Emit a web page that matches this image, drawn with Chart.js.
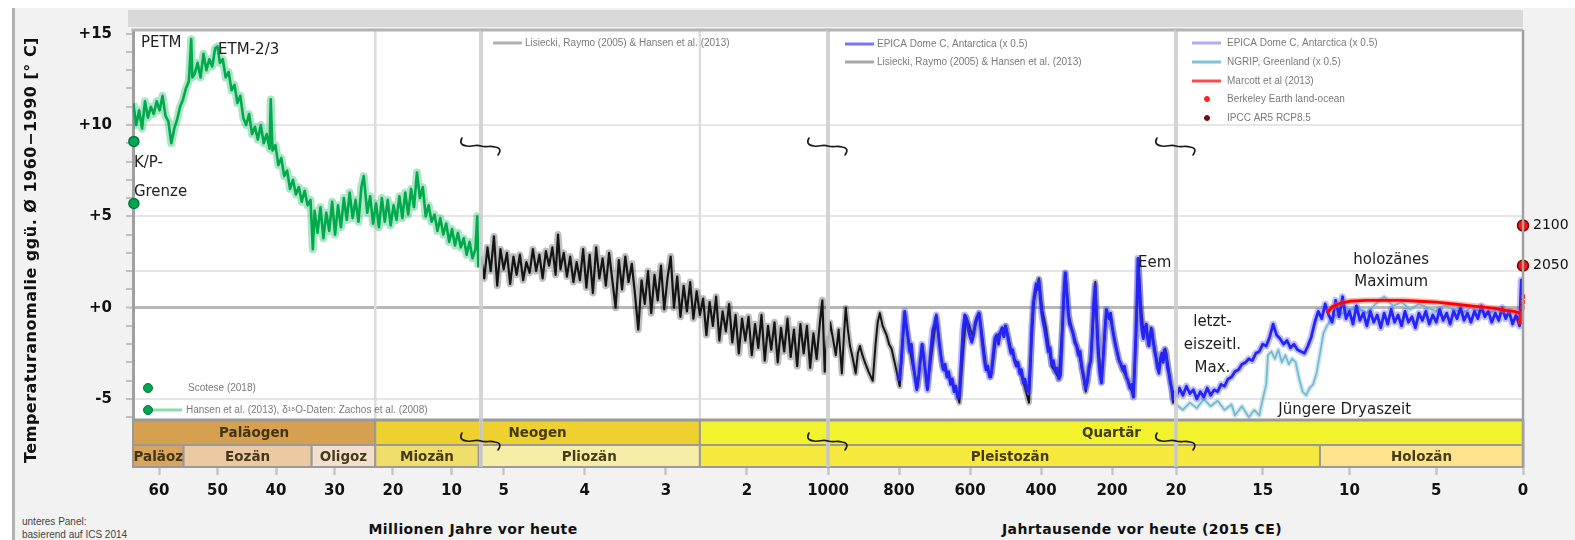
<!DOCTYPE html>
<html><head><meta charset="utf-8">
<script src="https://cdn.jsdelivr.net/npm/chart.js@4.4.1/dist/chart.umd.min.js"></script>
<style>
html,body{margin:0;padding:0}
body{width:1575px;height:540px;background:#fff;position:relative;overflow:hidden;font-family:'DejaVu Sans',sans-serif}
#frame{position:absolute;left:12px;top:8px;width:1563px;height:532px;background:#f2f2f2;border-left:3px solid #b3b3b3}
#topbar{position:absolute;left:128px;top:10px;width:1395px;height:17px;background:#d9d9d9}
canvas{position:absolute;top:0}
.xt{position:absolute;top:521px;font:bold 14px 'DejaVu Sans';color:#111;transform:translateX(-50%);white-space:nowrap;letter-spacing:0.4px}
.note{position:absolute;left:22px;font:10px 'Liberation Sans';color:#444;white-space:nowrap}
</style></head><body>
<div id="frame"></div><div id="topbar"></div>
<div class="xt" style="left:473px">Millionen Jahre vor heute</div>
<div class="xt" style="left:1142px">Jahrtausende vor heute (2015 CE)</div>
<div class="note" style="top:516px">unteres Panel:</div>
<div class="note" style="top:529px">basierend auf ICS 2014</div>
<script>
// ---------------- DATA ----------------
const yTitle = 'Temperaturanomalie ggü. Ø 1960−1990 [° C]';
const yTickValues = [-6,-5,-4,-3,-2,-1,0,1,2,3,4,5,6,7,8,9,10,11,12,13,14,15];
const yLabelValues = [15,10,5,0,-5];
const yLabelTexts = ['+15','+10','+5','+0','-5'];
const gridValues = [10,5,2,0,-5];

const p1TickValues = [60,50,40,30,20,10];
const p1TickLabels = ['60','50','40','30','20','10'];
const p2TickValues = [5,4,3,2];
const p2TickLabels = ['5','4','3','2'];
const p3TickValues = [1000,800,600,400,200];
const p3TickLabels = ['1000','800','600','400','200'];
const p4TickValues = [20,15,10,5,0];
const p4TickLabels = ['20','15','10','5','0'];

// geologic time (Ma)
const eraNames = ['Paläogen','Neogen','Quartär'];
const eraStart = [66.0, 23.03, 2.58];
const eraEnd = [23.03, 2.58, 0];
const epochNames = ['Paläoz','Eozän','Oligoz','Miozän','Pliozän','Pleistozän','Holozän'];
const epochStart = [66.0, 55.8, 33.9, 23.03, 5.33, 2.58, 0.0117];
const epochEnd = [55.8, 33.9, 23.03, 5.33, 2.58, 0.0117, 0];

// Panel 1: Hansen et al. (2013) / Zachos (Ma)
const greenAge = [64.4,63.9,63.4,62.9,62.4,61.9,61.4,60.9,60.4,59.9,59.4,58.9,58.4,57.9,57.4,56.9,56.4,55.9,55.4,54.9,54.5,54.3,53.9,53.4,52.9,52.4,51.9,51.4,50.9,50.4,50.0,49.6,49.1,48.6,48.1,47.6,47.1,46.6,46.1,45.6,45.1,44.6,44.1,43.6,43.1,42.6,42.1,41.6,41.1,40.9,40.6,40.1,39.6,39.1,38.6,38.1,37.6,37.1,36.6,36.1,35.6,35.1,34.6,34.1,33.7,33.4,32.9,32.4,31.9,31.4,30.9,30.4,29.9,29.4,28.9,28.4,27.9,27.4,26.9,26.4,25.9,25.4,25.0,24.4,23.9,23.4,22.9,22.4,21.9,21.4,20.9,20.4,19.9,19.4,18.9,18.4,17.9,17.4,16.9,16.4,15.9,15.4,14.9,14.4,13.9,13.4,12.9,12.4,11.9,11.4,10.9,10.4,9.9,9.4,8.9,8.4,7.9,7.4,6.9,6.4,5.9,5.6,5.4];
const greenTemp = [11.2,10.0,10.8,9.8,11.3,10.4,11.0,10.6,11.3,10.8,11.6,10.5,10.2,9.0,9.8,10.3,11.0,11.4,12.0,12.4,14.7,12.6,12.8,13.4,12.6,13.9,13.0,13.6,13.2,14.2,14.3,13.4,13.6,12.6,12.9,11.9,12.2,11.2,11.6,10.4,10.0,10.6,9.5,9.9,9.2,10.0,9.0,9.5,8.7,11.4,8.6,8.9,7.8,8.2,7.2,7.5,6.5,7.0,6.2,6.6,5.8,6.4,5.6,5.9,3.2,5.3,4.1,5.5,3.8,5.2,4.2,5.8,4.0,5.6,4.4,6.0,4.8,6.3,4.9,5.9,4.7,6.6,7.2,5.2,6.1,4.6,5.7,4.4,6.0,4.7,5.9,4.5,5.6,4.8,6.1,4.9,6.3,5.1,6.5,5.5,7.4,6.0,6.6,5.0,5.6,4.7,5.1,4.2,4.9,4.0,4.6,3.6,4.3,3.4,4.1,3.3,3.8,2.9,3.6,2.7,3.2,5.0,2.2];
const scoteseAge = [64.3,64.3];
const scoteseTemp = [9.1,5.7];

// Panel 2: Lisiecki & Raymo (2005) & Hansen (Ma)
const p2Age = [5.28,5.24,5.20,5.16,5.12,5.08,5.04,5.00,4.96,4.92,4.88,4.84,4.80,4.76,4.72,4.68,4.64,4.60,4.56,4.52,4.48,4.44,4.40,4.36,4.33,4.30,4.26,4.22,4.18,4.14,4.10,4.06,4.02,3.98,3.94,3.90,3.86,3.82,3.78,3.74,3.70,3.66,3.62,3.58,3.54,3.50,3.46,3.42,3.38,3.34,3.30,3.26,3.22,3.18,3.14,3.10,3.06,3.02,2.98,2.94,2.90,2.86,2.82,2.78,2.74,2.70,2.66,2.62,2.58,2.54,2.50,2.46,2.42,2.38,2.34,2.30,2.26,2.22,2.18,2.14,2.10,2.06,2.02,1.98,1.94,1.90,1.86,1.82,1.78,1.74,1.70,1.66,1.62,1.58,1.54,1.50,1.46,1.42,1.38,1.34,1.30,1.26,1.22,1.18,1.14,1.10,1.07,1.04,1.01,1.00];
const p2Temp = [2.8,1.6,3.3,2.0,3.9,1.2,3.2,2.1,3.0,1.3,2.8,1.8,2.9,1.5,2.5,1.9,3.2,2.0,2.9,1.6,3.1,2.3,3.3,1.8,4.0,2.1,3.0,1.7,2.8,1.4,2.5,1.5,3.2,1.1,2.9,0.8,3.3,1.6,2.7,1.2,3.0,1.5,0.0,2.6,1.0,2.8,1.4,2.4,0.7,-1.2,1.5,0.2,2.0,-0.3,1.8,0.4,2.3,-0.1,1.6,2.8,0.0,1.7,-0.5,1.2,-0.2,1.4,-0.6,0.9,-0.4,0.5,-1.5,0.3,-1.0,0.6,-1.8,-0.2,-1.3,0.2,-1.9,-0.4,-2.5,-0.6,-1.8,-0.5,-2.6,-0.9,-2.2,-0.4,-2.9,-1.0,-2.3,-0.8,-3.0,-1.1,-2.4,-0.6,-2.7,-1.2,-3.2,-0.9,-2.5,-1.0,-3.3,-1.4,-2.8,-0.8,0.4,-3.5,-1.6,-2.2];

// Panel 3 (ka): LR04 & EPICA
const p3BlackAge = [1000,994,986,978,970,961,955,950,944,938,930,922,916,910,903,896,886,874,866,860,854,846,835,828,821,810,798,790,784,777,770,760,748,740,734,727,720,708,695,686,678,665,653,640,630,620,611,602,594,584,574,564,555,541,534,527,512,499,492,485,474,462,448,434,427,420,413,406,396,386,378,370,360,350,340,331,322,314,304,294,284,274,268,261,254,247,239,230,223,216,209,202,192,182,172,162,150,140,132,126,119,112,104,98,90,82,70,60,50,40,28,20];
const p3BlackTemp = [-2.2,-0.8,-1.7,-2.6,-1.2,-3.6,-1.5,0.0,-1.2,-2.1,-2.8,-3.6,-2.5,-2.1,-2.6,-3.0,-3.5,-4.0,-2.0,-0.8,-0.3,-1.0,-1.5,-2.0,-2.25,-3.2,-4.3,-2.0,-0.3,-1.3,-2.25,-3.3,-4.3,-3.0,-2.1,-3.3,-4.3,-2.5,-0.6,-2.0,-3.2,-3.6,-4.0,-4.5,-5.2,-2.5,-0.5,-1.0,-1.5,-0.9,-0.3,-1.8,-3.2,-3.8,-2.8,-1.6,-1.3,-1.0,-1.6,-2.25,-2.8,-3.3,-4.2,-5.2,-2.0,0.3,1.0,1.6,-0.2,-1.1,-2.2,-3.2,-3.5,-3.9,-1.0,1.9,-0.4,-1.1,-1.8,-2.4,-3.5,-4.6,-3.8,-3.0,-1.0,1.4,-2.0,-4.1,-2.0,-0.2,-0.5,-0.8,-1.8,-2.8,-3.3,-3.7,-4.3,-4.8,-1.5,2.6,0.2,-1.3,-1.0,-2.0,-1.1,-2.0,-3.3,-2.6,-2.25,-3.4,-5.2,-4.9];
const p3BlueAge = [800,794,789,784,780,775,770,765,760,755,750,745,740,735,730,725,720,715,710,705,700,695,690,685,680,675,670,665,660,655,650,645,640,635,630,625,620,615,610,605,600,595,590,585,580,575,570,565,560,555,550,545,540,535,530,525,520,515,510,505,500,495,490,485,480,475,470,465,460,455,450,445,440,435,430,426,422,418,414,410,406,402,398,394,390,385,380,375,370,365,360,355,350,345,340,336,332,328,324,320,315,310,305,300,295,290,285,280,275,270,265,260,256,252,248,244,240,235,230,225,220,216,212,208,204,200,195,190,185,180,175,170,165,160,155,150,145,140,136,132,129,127,124,121,118,115,112,108,104,100,96,92,88,84,80,76,72,68,64,60,56,52,48,44,40,36,32,28,24,20];
const p3BlueTemp = [-4.0,-3.0,-1.5,-0.2,-0.9,-1.6,-2.4,-2.0,-3.1,-3.8,-4.5,-3.8,-2.9,-2.0,-2.8,-3.6,-4.5,-3.4,-2.2,-1.2,-0.9,-0.4,-1.3,-2.2,-2.9,-3.4,-3.1,-3.8,-3.5,-4.2,-3.9,-4.6,-4.3,-4.9,-4.8,-3.0,-1.2,-0.4,-0.6,-1.2,-1.6,-1.9,-1.5,-0.8,-0.5,-0.3,-1.0,-2.0,-2.8,-3.4,-3.2,-3.8,-3.6,-2.6,-1.7,-1.5,-2.0,-1.4,-1.1,-1.6,-1.0,-1.5,-2.0,-2.5,-2.3,-2.9,-3.2,-3.0,-3.6,-3.4,-4.1,-3.9,-4.5,-4.6,-3.0,-1.0,0.2,0.8,1.3,1.0,1.5,0.5,-0.3,-0.8,-1.2,-1.8,-2.4,-2.2,-3.1,-2.9,-3.5,-3.3,-3.9,-3.7,-1.2,0.8,1.9,0.9,-0.2,-0.9,-1.1,-1.4,-1.9,-2.1,-2.6,-2.4,-3.3,-3.7,-4.4,-4.1,-3.2,-2.9,-1.5,0.2,1.2,-0.5,-2.2,-3.5,-4.1,-2.8,-1.2,-0.1,-0.4,-0.6,-0.3,-1.0,-1.6,-2.1,-2.5,-2.9,-3.1,-3.4,-3.2,-3.8,-4.0,-4.4,-4.2,-4.9,-3.0,-0.8,1.0,2.7,1.5,0.1,-0.8,-1.4,-1.7,-1.2,-0.9,-1.6,-2.1,-1.4,-1.2,-1.9,-2.4,-2.8,-3.3,-3.6,-2.8,-2.5,-3.0,-2.3,-2.5,-3.3,-3.6,-4.1,-4.4,-5.0,-4.6,-4.9];

// Panel 4 (ka)
const p4BlueAge = [20.0,19.8,19.6,19.4,19.2,19.0,18.8,18.6,18.4,18.2,18.0,17.8,17.6,17.4,17.2,17.0,16.8,16.6,16.4,16.2,16.0,15.8,15.6,15.4,15.2,15.0,14.8,14.6,14.4,14.2,14.0,13.8,13.6,13.4,13.2,13.0,12.8,12.6,12.4,12.2,12.0,11.8,11.6,11.4,11.2,11.0,10.8,10.6,10.4,10.2,10.0,9.8,9.6,9.4,9.2,9.0,8.8,8.6,8.4,8.2,8.0,7.8,7.6,7.4,7.2,7.0,6.8,6.6,6.4,6.2,6.0,5.8,5.6,5.4,5.2,5.0,4.8,4.6,4.4,4.2,4.0,3.8,3.6,3.4,3.2,3.0,2.8,2.6,2.4,2.2,2.0,1.8,1.6,1.4,1.2,1.0,0.8,0.6,0.4,0.2,0.1,0.0];
const p4BlueTemp = [-4.9,-4.4,-4.8,-4.3,-4.7,-4.5,-5.0,-4.6,-4.9,-4.4,-4.8,-4.5,-4.6,-4.2,-4.3,-3.9,-3.8,-3.5,-3.4,-3.1,-3.0,-2.8,-2.9,-2.5,-2.4,-2.0,-2.1,-1.6,-0.9,-1.5,-1.7,-2.0,-1.8,-2.2,-2.0,-2.3,-2.4,-2.5,-2.1,-1.6,-0.8,-0.2,-0.6,0.2,-0.4,-0.8,0.4,-0.5,0.6,-0.6,-0.2,-0.9,0.1,-0.7,-0.3,-1.0,-0.2,-0.8,-0.4,-1.1,-0.3,-0.9,-0.1,-0.8,-0.4,-1.0,-0.2,-0.8,-0.5,-1.1,-0.3,-0.7,-0.2,-0.9,-0.4,-0.8,-0.1,-0.7,-0.3,-0.9,-0.2,-0.6,0.0,-0.7,-0.3,-0.8,-0.2,-0.6,0.1,-0.5,-0.2,-0.8,-0.3,-0.7,0.0,-0.6,-0.2,-0.9,-0.4,-1.0,1.5,-0.3];
const p4CyanAge = [20.0,19.6,19.2,18.8,18.4,18.0,17.6,17.2,16.8,16.6,16.2,15.8,15.5,15.2,15.0,14.8,14.7,14.5,14.3,14.1,13.9,13.7,13.5,13.3,13.1,12.9,12.7,12.5,12.3,12.1,11.9,11.7,11.5,11.3,11.1,10.8,10.4,10.0,9.5,9.0,8.5,8.0,7.5,7.0,6.5,6.0,5.5,5.0,4.5,4.0,3.5,3.0,2.5,2.0,1.5,1.0,0.5,0.0];
const p4CyanTemp = [-5.3,-5.6,-5.2,-5.5,-5.0,-5.4,-5.1,-5.6,-5.3,-5.9,-5.4,-6.0,-5.6,-5.9,-5.0,-4.2,-2.6,-2.4,-2.8,-2.3,-3.0,-2.6,-3.1,-2.8,-3.0,-3.9,-4.6,-4.8,-4.4,-4.2,-3.6,-2.5,-1.4,-1.0,-0.7,-0.4,-0.3,-0.1,0.0,-0.3,0.2,0.6,0.1,0.3,-0.1,0.2,0.0,-0.2,0.1,-0.1,-0.3,0.0,-0.2,-0.3,-0.1,-0.4,-0.2,-0.3];
const marcottAge = [11.3,11.0,10.5,10.0,9.0,8.0,7.0,6.0,5.0,4.0,3.0,2.0,1.5,1.0,0.5,0.2];
const marcottTemp = [-0.3,0.05,0.25,0.35,0.4,0.4,0.4,0.35,0.3,0.2,0.1,0.0,-0.05,-0.15,-0.2,-0.3];
const berkeleyAge = [0.16,0.13,0.10,0.07,0.04,0.02,0.0];
const berkeleyTemp = [-0.8,-0.6,-0.5,-0.3,0.0,0.3,0.6];
const ipccAge = [0,0];
const ipccTemp = [2.3,4.5];
const ipccLabels = ['2050','2100'];

// ---------------- LAYOUT / STYLE ----------------
const PAGE_EDGES = [133, 481, 828, 1176, 1523];
const Y_MIN = -6.15, Y_MAX = 15.2;
const eraColors = ['#d5a050','#eed12e','#f2f22f'];
const epochColors = ['#d9a45e','#eac9a3','#f4dfcd','#f0de6b','#f6eda7','#f7e83d','#fde38b'];

function xy(xs, ys){ return xs.map((x,i)=>({x:x, y:ys[i]})); }
function lineDs(xs, ys, color, width){
  return {data: xy(xs, ys), borderColor: color, borderWidth: width, pointRadius: 0, tension: 0, fill: false, borderJoinStyle: 'round'};
}
function pointDs(xs, ys, bg, border, r, style){
  return {data: xy(xs, ys), showLine: false, pointRadius: r, pointBackgroundColor: bg, pointBorderColor: border, pointBorderWidth: 1.5, pointStyle: style || 'circle', clip: false};
}

const panels = [
  {factor:1, min:4.95, max:64.45, tickValues:p1TickValues, tickLabels:p1TickLabels, padL:133, padR:40,
   layers: [
     lineDs(greenAge, greenTemp, 'rgba(0,176,80,0.32)', 8),
     lineDs(greenAge, greenTemp, 'rgb(0,170,76)', 2.6),
     pointDs(scoteseAge, scoteseTemp, '#00a651', '#00783a', 5)
   ],
   notes: [
     {text:'PETM', x:63.1, y:14.5, align:'left'},
     {text:'ETM-2/3', x:49.9, y:14.1, align:'left'},
     {text:'K/P-', x:64.3, y:7.9, align:'left'},
     {text:'Grenze', x:64.3, y:6.3, align:'left'}
   ],
   legend: [
     {kind:'dot', color:'#00a651', border:'#00783a', text:'Scotese (2018)', dx:15, tx:55, dy:358},
     {kind:'dotline', color:'#00a651', border:'#00783a', line:'#8fdcaa', text:'Hansen et al. (2013), δ¹⁸O-Daten: Zachos et al. (2008)', dx:15, tx:53, dy:380}
   ]},
  {factor:1, min:1.0, max:5.28, tickValues:p2TickValues, tickLabels:p2TickLabels, padL:40, padR:40,
   layers: [
     lineDs(p2Age, p2Temp, 'rgba(0,0,0,0.25)', 7),
     lineDs(p2Age, p2Temp, '#141414', 2.2)
   ],
   notes: [],
   legend: [
     {kind:'line', line:'#b0b0b0', text:'Lisiecki, Raymo (2005) & Hansen et al. (2013)', dx:12, tx:44, dy:13}
   ]},
  {factor:1000, min:20, max:1000, tickValues:p3TickValues, tickLabels:p3TickLabels, padL:40, padR:40,
   layers: [
     lineDs(p3BlackAge, p3BlackTemp, 'rgba(0,0,0,0.25)', 6),
     lineDs(p3BlackAge, p3BlackTemp, '#141414', 2),
     lineDs(p3BlueAge, p3BlueTemp, 'rgba(70,70,255,0.35)', 7),
     lineDs(p3BlueAge, p3BlueTemp, 'rgb(35,35,250)', 2.8)
   ],
   notes: [
     {text:'Eem', x:127, y:2.45, align:'left'}
   ],
   legend: [
     {kind:'line', line:'#7474ff', text:'EPICA Dome C, Antarctica (x 0.5)', dx:17, tx:49, dy:14},
     {kind:'line', line:'#a8a8a8', text:'Lisiecki, Raymo (2005) & Hansen et al. (2013)', dx:17, tx:49, dy:32}
   ]},
  {factor:1000, min:0, max:20, tickValues:p4TickValues, tickLabels:p4TickLabels, padL:40, padR:55,
   layers: [
     lineDs(p4CyanAge, p4CyanTemp, 'rgba(150,205,220,0.45)', 5),
     lineDs(p4CyanAge, p4CyanTemp, 'rgba(110,180,205,0.9)', 1.8),
     lineDs(p4BlueAge, p4BlueTemp, 'rgba(70,70,255,0.35)', 7),
     lineDs(p4BlueAge, p4BlueTemp, 'rgb(35,35,250)', 2.8),
     lineDs(marcottAge, marcottTemp, 'rgba(255,90,90,0.45)', 6),
     lineDs(marcottAge, marcottTemp, '#ff0000', 2.8),
     pointDs(berkeleyAge, berkeleyTemp, '#ff1010', '#ff1010', 2, 'rect'),
     pointDs(ipccAge, ipccTemp, '#ff1010', '#7a0000', 5.5)
   ],
   notes: [
     {text:'holozänes', x:7.6, y:2.6, align:'center'},
     {text:'Maximum', x:7.6, y:1.4, align:'center'},
     {text:'letzt-', x:17.9, y:-0.8, align:'center'},
     {text:'eiszeitl.', x:17.9, y:-2.05, align:'center'},
     {text:'Max.', x:17.9, y:-3.3, align:'center'},
     {text:'Jüngere Dryaszeit', x:14.1, y:-5.6, align:'left'}
   ],
   legend: [
     {kind:'line', line:'#adadf7', text:'EPICA Dome C, Antarctica (x 0.5)', dx:16, tx:51, dy:13},
     {kind:'line', line:'#7fc2d3', text:'NGRIP, Greenland (x 0.5)', dx:16, tx:51, dy:32},
     {kind:'line', line:'#ff4a4a', text:'Marcott et al (2013)', dx:16, tx:51, dy:51},
     {kind:'dot', color:'#ff2020', border:'#ff2020', r:2.5, text:'Berkeley Earth land-ocean', dx:31, tx:51, dy:69},
     {kind:'dot', color:'#7a0a0a', border:'#7a0a0a', r:2.5, text:'IPCC AR5 RCP8.5', dx:31, tx:51, dy:88}
   ]}
];

const charts = [];
const pageLeft = [];

function hline(ctx, x1, y1, x2, y2){ ctx.beginPath(); ctx.moveTo(x1,y1); ctx.lineTo(x2,y2); ctx.stroke(); }

function squiggle(ctx, cx, cy){
  ctx.save(); ctx.strokeStyle = '#1a1a1a'; ctx.lineWidth = 1.6; ctx.lineCap = 'round';
  ctx.beginPath();
  ctx.moveTo(cx-19, cy-8);
  ctx.quadraticCurveTo(cx-23, cy-1, cx-14, cy);
  ctx.bezierCurveTo(cx-8, cy+1, cx-6, cy-2, cx, cy);
  ctx.bezierCurveTo(cx+6, cy+2, cx+8, cy-1, cx+14, cy+1);
  ctx.quadraticCurveTo(cx+22, cy+2, cx+17, cy+9);
  ctx.stroke(); ctx.restore();
}

function drawRow(chart, factor, starts, ends, colors, yTop, yBot){
  const xs = chart.scales.x, ctx = chart.ctx;
  for (let k = 0; k < starts.length; k++){
    const a = starts[k]*factor, b = ends[k]*factor;
    if (a <= xs.min || b >= xs.max) continue;
    const x1 = xs.getPixelForValue(Math.min(a, xs.max));
    const x2 = xs.getPixelForValue(Math.max(b, xs.min));
    ctx.fillStyle = colors[k];
    ctx.fillRect(x1, yTop, x2-x1, yBot-yTop);
    ctx.strokeStyle = '#9a9a9a'; ctx.lineWidth = 2;
    ctx.strokeRect(x1, yTop, x2-x1, yBot-yTop);
  }
}

function pageSpan(startMa, endMa){
  let lo = Infinity, hi = -Infinity;
  charts.forEach((c, i) => {
    const xs = c.scales.x, f = panels[i].factor;
    const a = startMa*f, b = endMa*f;
    if (a <= xs.min || b >= xs.max) return;
    lo = Math.min(lo, xs.getPixelForValue(Math.min(a, xs.max)) + pageLeft[i]);
    hi = Math.max(hi, xs.getPixelForValue(Math.max(b, xs.min)) + pageLeft[i]);
  });
  return [lo, hi];
}

function drawRowLabels(chart, idx, names, starts, ends, y){
  const a = chart.chartArea, ctx = chart.ctx;
  for (let k = 0; k < names.length; k++){
    const s = pageSpan(starts[k], ends[k]);
    if (!isFinite(s[0])) continue;
    const cx = (s[0]+s[1])/2 - pageLeft[idx];
    if (cx >= a.left && cx < a.right) ctx.fillText(names[k], cx, y);
  }
}

const paleoPlugin = {
  id: 'paleo',
  beforeDraw(chart){
    const a = chart.chartArea, ctx = chart.ctx;
    ctx.save(); ctx.fillStyle = '#fff'; ctx.fillRect(a.left, a.top, a.right-a.left, a.bottom-a.top); ctx.restore();
  },
  beforeDatasetsDraw(chart, args, opts){
    const P = panels[opts.index], xs = chart.scales.x, a = chart.chartArea, ctx = chart.ctx;
    ctx.save(); ctx.strokeStyle = '#dcdcdc'; ctx.lineWidth = 2.5;
    eraStart.forEach(s => { const v = s*P.factor; if (v > xs.min && v < xs.max){ const x = xs.getPixelForValue(v); hline(ctx, x, a.top, x, a.bottom); } });
    ctx.restore();
  },
  afterDraw(chart, args, opts){
    const i = opts.index, P = panels[i], ctx = chart.ctx, a = chart.chartArea, xs = chart.scales.x, ys = chart.scales.y;
    const r1 = a.bottom, r2 = a.bottom + 25, r3 = a.bottom + 47;
    ctx.save();
    drawRow(chart, P.factor, eraStart, eraEnd, eraColors, r1, r2);
    drawRow(chart, P.factor, epochStart, epochEnd, epochColors, r2, r3);
    ctx.strokeStyle = '#9a9a9a'; ctx.lineWidth = 3; hline(ctx, a.left, r1, a.right, r1);
    ctx.lineWidth = 2; hline(ctx, a.left, r2, a.right, r2); hline(ctx, a.left, r3, a.right, r3);
    ctx.font = 'bold 13.5px "DejaVu Sans"'; ctx.fillStyle = 'rgba(50,40,10,0.9)'; ctx.textAlign = 'center'; ctx.textBaseline = 'middle';
    drawRowLabels(chart, i, eraNames, eraStart, eraEnd, (r1+r2)/2 + 1);
    drawRowLabels(chart, i, epochNames, epochStart, epochEnd, (r2+r3)/2 + 1);
    if (i > 0){
      ctx.strokeStyle = 'rgba(205,205,205,0.85)'; ctx.lineWidth = 4; hline(ctx, a.left, a.top, a.left, r3);
    }
    ctx.strokeStyle = '#b4b4b4'; ctx.lineWidth = 3; hline(ctx, a.left - (i===0?1.5:0), a.top, a.right, a.top);
    if (i === panels.length-1){ ctx.strokeStyle = '#a0a0a0'; ctx.lineWidth = 2.5; hline(ctx, a.right, a.top, a.right, r3); }
    if (i > 0){ squiggle(ctx, a.left, a.top + 116); squiggle(ctx, a.left, a.bottom + 21); }
    ctx.font = '15px "DejaVu Sans"'; ctx.fillStyle = '#1e1e1e'; ctx.textBaseline = 'middle';
    P.notes.forEach(n => { ctx.textAlign = n.align; ctx.fillText(n.text, xs.getPixelForValue(n.x), ys.getPixelForValue(n.y)); });
    ctx.font = '10px "Liberation Sans"'; ctx.textAlign = 'left';
    P.legend.forEach(it => {
      const y = a.top + it.dy, x0 = a.left + it.dx;
      if (it.kind === 'line' || it.kind === 'dotline'){
        ctx.strokeStyle = it.line; ctx.lineWidth = 3; hline(ctx, x0 + (it.kind==='dotline'?4:0), y, x0 + (it.kind==='dotline'?34:29), y);
      }
      if (it.kind === 'dot' || it.kind === 'dotline'){
        ctx.beginPath(); ctx.arc(x0, y, it.r || 4.5, 0, Math.PI*2); ctx.fillStyle = it.color; ctx.fill();
        ctx.lineWidth = 1; ctx.strokeStyle = it.border; ctx.stroke();
      }
      ctx.fillStyle = '#7a7a7a'; ctx.fillText(it.text, a.left + it.tx, y);
    });
    if (i === 0){
      ctx.save(); ctx.translate(32, 250); ctx.rotate(-Math.PI/2);
      ctx.font = 'bold 16px "DejaVu Sans"'; ctx.fillStyle = '#111'; ctx.textAlign = 'center'; ctx.textBaseline = 'middle';
      try { ctx.letterSpacing = '0.5px'; } catch(e) {}
      ctx.fillText(yTitle, 0, 0); ctx.restore();
    }
    if (i === panels.length-1){
      ctx.font = '14px "DejaVu Sans"'; ctx.fillStyle = '#111'; ctx.textAlign = 'left'; ctx.textBaseline = 'middle';
      ipccLabels.forEach((t, k) => ctx.fillText(t, xs.getPixelForValue(ipccAge[k]) + 10, ys.getPixelForValue(ipccTemp[k])));
    }
    ctx.restore();
  }
};

panels.forEach((P, i) => {
  const w = (PAGE_EDGES[i+1] - PAGE_EDGES[i]) + P.padL + P.padR;
  const left = PAGE_EDGES[i] - P.padL;
  pageLeft.push(left);
  const cv = document.createElement('canvas');
  cv.width = w; cv.height = 540; cv.style.left = left + 'px'; cv.style.width = w + 'px'; cv.style.height = '540px';
  document.body.appendChild(cv);
  const n = P.layers.length;
  const datasets = P.layers.map((d, k) => Object.assign({order: n - k}, d));
  const c = new Chart(cv, {
    type: 'line',
    data: {datasets: datasets},
    options: {
      responsive: false, animation: false, devicePixelRatio: 1, events: [],
      layout: {padding: {left: i===0 ? 0 : P.padL, right: P.padR, top: 30, bottom: 0}},
      plugins: {legend: {display: false}, tooltip: {enabled: false}, paleo: {index: i}},
      scales: {
        x: {
          type: 'linear', reverse: true, min: P.min, max: P.max,
          afterBuildTicks: s => { s.ticks = P.tickValues.map(v => ({value: v})); },
          afterFit: s => { s.height = 120; },
          ticks: {autoSkip: false, maxRotation: 0, padding: 7, color: '#111',
                  font: {family: 'DejaVu Sans', weight: 'bold', size: 15},
                  callback: v => { const k = P.tickValues.indexOf(v); return k >= 0 ? P.tickLabels[k] : ''; }},
          grid: {drawOnChartArea: false, drawTicks: true, tickLength: 55, tickColor: '#c6c6c6', tickWidth: 2.5},
          border: {display: false}
        },
        y: {
          type: 'linear', min: Y_MIN, max: Y_MAX,
          afterBuildTicks: s => { s.ticks = yTickValues.map(v => ({value: v})); },
          afterFit: s => { s.width = i === 0 ? 133 : 0; },
          ticks: {display: i === 0, autoSkip: false, padding: 14, color: '#111',
                  font: {family: 'DejaVu Sans', weight: 'bold', size: 15},
                  callback: v => { const k = yLabelValues.indexOf(v); return k >= 0 ? yLabelTexts[k] : ''; }},
          grid: {
            color: ctx => (ctx.tick && gridValues.includes(ctx.tick.value)) ? (ctx.tick.value === 0 ? '#b8b8b8' : '#e6e6e6') : 'rgba(0,0,0,0)',
            lineWidth: ctx => (ctx.tick && ctx.tick.value === 0) ? 3 : 2,
            drawTicks: i === 0, tickLength: 7, tickColor: '#bfbfbf', tickWidth: 2
          },
          border: {display: i === 0, color: '#a0a0a0', width: 3}
        }
      }
    },
    plugins: [paleoPlugin]
  });
  charts.push(c);
});
charts.forEach(c => c.draw());
</script>
</body></html>
